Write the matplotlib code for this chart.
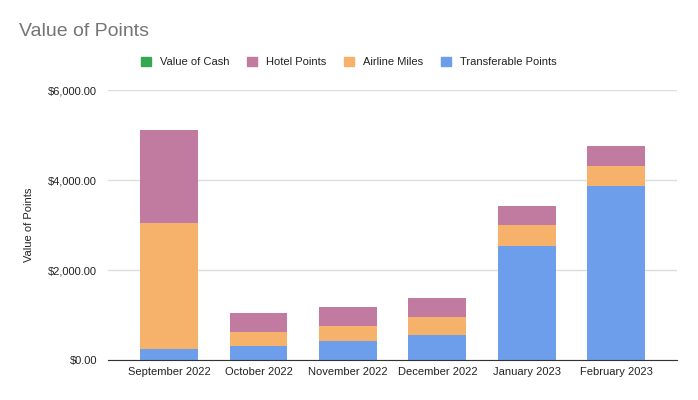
import matplotlib
matplotlib.use("Agg")
import matplotlib.pyplot as plt
from matplotlib.ticker import FuncFormatter
from matplotlib.patches import Patch
import numpy as np

plt.rcParams['font.family'] = ['Liberation Sans', 'DejaVu Sans']

categories = ["September 2022", "October 2022", "November 2022", "December 2022", "January 2023", "February 2023"]
transferable = [237, 319, 422, 556, 2541, 3874]
airline = [2800, 310, 334, 392, 459, 437]
hotel = [2074, 408, 422, 422, 422, 445]
cash = [0, 0, 0, 0, 0, 0]

c_blue = "#6d9eeb"
c_orange = "#f6b26b"
c_pink = "#c27ba0"
c_green = "#34a853"

fig = plt.figure(figsize=(6.98, 4.0), dpi=100)
ax = fig.add_axes([0.155, 0.1, 0.815, 0.675])

x = np.arange(len(categories))
w = 0.647
t = np.array(transferable); a = np.array(airline); h = np.array(hotel); c = np.array(cash)
ax.bar(x, t, w, color=c_blue, zorder=3)
ax.bar(x, a, w, bottom=t, color=c_orange, zorder=3)
ax.bar(x, h, w, bottom=t + a, color=c_pink, zorder=3)
ax.bar(x, c, w, bottom=t + a + h, color=c_green, zorder=3)

ax.set_xlim(-0.68, 5.68)
ax.set_ylim(0, 6000)
ax.set_yticks([0, 2000, 4000, 6000])
ax.yaxis.set_major_formatter(FuncFormatter(lambda v, p: "${:,.2f}".format(v)))
ax.set_xticks(x)
ax.set_xticklabels(categories)
ax.grid(axis='y', color='#dddddd', linewidth=1, zorder=0)
for s in ['top', 'right', 'left']:
    ax.spines[s].set_visible(False)
ax.spines['bottom'].set_color('#333333')
ax.spines['bottom'].set_zorder(4)
ax.tick_params(axis='both', length=0, labelsize=8, colors='#222222', pad=5)
ax.tick_params(axis='y', pad=8)
ax.set_ylabel("Value of Points", fontsize=8, color='#222222', labelpad=10)

fig.text(0.027, 0.92, "Value of Points", fontsize=14, color='#757575', va='center', ha='left')

handles = [Patch(color=c_green), Patch(color=c_pink), Patch(color=c_orange), Patch(color=c_blue)]
labels = ["Value of Cash", "Hotel Points", "Airline Miles", "Transferable Points"]
fig.legend(handles, labels, loc='center', bbox_to_anchor=(0.5, 0.845), ncol=4, frameon=False,
           fontsize=8, handlelength=0.9, handleheight=0.9, handletextpad=0.8, columnspacing=1.6,
           labelcolor='#222222')

fig.savefig("out.png", dpi=100, facecolor='white')
